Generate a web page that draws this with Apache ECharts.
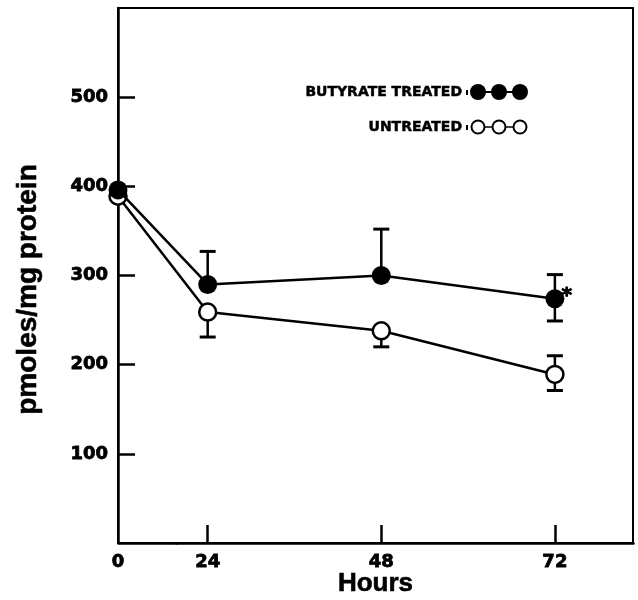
<!DOCTYPE html>
<html>
<head>
<meta charset="utf-8">
<script src="https://cdn.jsdelivr.net/npm/echarts@6/dist/echarts.min.js"></script>
<style>html,body{margin:0;padding:0;background:#fff}#c{width:638px;height:600px}</style>
</head>
<body>
<div id="c"></div>
<script>
// ---- data ----
const hours = [0, 24, 48, 72];
const butyrate = [396, 290, 300, 274];
const butyrateHi = [null, 327, 352, 301];
const butyrateLo = [null, null, null, 249];
const untreated = [389, 259, 238, 189];
const untreatedHi = [null, null, null, 210];
const untreatedLo = [null, 231, 220, 171];
const xTickValues = [0, 24, 48, 72];
const yTickValues = [100, 200, 300, 400, 500];
const legendLabels = ['BUTYRATE TREATED', 'UNTREATED'];

const chart = echarts.init(document.getElementById('c'), null, {renderer: 'canvas'});

function errorSeries(name, vals, hi, lo) {
  return {
    type: 'custom',
    name: name + ' err',
    z: 1,
    silent: true,
    clip: false,
    data: hours.map((h, i) => [h, vals[i]]),
    renderItem: function (params, api) {
      const i = params.dataIndex;
      const children = [];
      const c = api.coord([hours[i], vals[i]]);
      const cap = 8;
      [hi[i], lo[i]].forEach(function (v) {
        if (v === null || v === undefined) return;
        const p = api.coord([hours[i], v]);
        children.push({type: 'line', shape: {x1: c[0], y1: c[1], x2: p[0], y2: p[1]}, style: {stroke: '#000', lineWidth: 2.5}});
        children.push({type: 'line', shape: {x1: p[0] - cap, y1: p[1], x2: p[0] + cap, y2: p[1]}, style: {stroke: '#000', lineWidth: 3}});
      });
      return {type: 'group', children: children};
    }
  };
}

const tickFont = {fontFamily: 'DejaVu Sans', fontWeight: 'bold', fontSize: 18, color: '#000', textBorderColor: '#000', textBorderWidth: 0.8};

const option = {
  animation: false,
  backgroundColor: '#fff',
  grid: {left: 118, right: 5, top: 8, bottom: 57, outerBoundsMode: 'none', containLabel: false, show: true, borderColor: '#000', borderWidth: 2, backgroundColor: 'transparent'},
  xAxis: {
    type: 'value',
    min: 0,
    max: 82.8,
    breaks: [{start: 8, end: 19.6, gap: 0}],
    breakArea: {show: false, itemStyle: {color: 'transparent', borderWidth: 0, opacity: 0}, zigzagAmplitude: 0},
    axisLine: {show: true, onZero: false, lineStyle: {color: '#000', width: 2.5}},
    axisTick: {show: true, inside: true, length: 18, lineStyle: {color: '#000', width: 2.5}, customValues: [24, 48, 72]},
    axisLabel: Object.assign({show: true, margin: 10, customValues: xTickValues, formatter: function (v) { return String(v); }}, tickFont),
    splitLine: {show: false},
    name: 'Hours',
    nameLocation: 'middle',
    nameGap: 28,
    nameMoveOverlap: false,
    nameTextStyle: {fontFamily: 'Liberation Sans', fontWeight: 'bold', fontSize: 26, color: '#000', textBorderColor: '#000', textBorderWidth: 0.6}
  },
  yAxis: {
    type: 'value',
    min: 0,
    max: 600,
    axisLine: {show: true, onZero: false, lineStyle: {color: '#000', width: 2.5}},
    axisTick: {show: true, inside: true, length: 17, lineStyle: {color: '#000', width: 2.5}, customValues: yTickValues},
    axisLabel: Object.assign({show: true, margin: 10, customValues: yTickValues}, tickFont),
    splitLine: {show: false},
    name: 'pmoles/mg protein',
    nameLocation: 'middle',
    nameGap: 76,
    nameRotate: 90,
    nameMoveOverlap: false,
    nameTextStyle: {fontFamily: 'Liberation Sans', fontWeight: 'bold', fontSize: 28, color: '#000', textBorderColor: '#000', textBorderWidth: 0.6, padding: [0, 28, 0, 0]}
  },
  series: [
    errorSeries('untreated', untreated, untreatedHi, untreatedLo),
    errorSeries('butyrate', butyrate, butyrateHi, butyrateLo),
    {
      type: 'line',
      name: legendLabels[1],
      z: 3,
      clip: false,
      data: hours.map((h, i) => [h, untreated[i]]),
      symbol: 'circle',
      symbolSize: 17,
      showAllSymbol: true,
      lineStyle: {color: '#000', width: 2.5},
      itemStyle: {color: '#fff', borderColor: '#000', borderWidth: 2.5}
    },
    {
      type: 'line',
      name: legendLabels[0],
      z: 4,
      clip: false,
      data: hours.map((h, i) => {
        const item = {value: [h, butyrate[i]]};
        if (i === hours.length - 1) {
          item.label = {show: true, formatter: '*', position: 'right', distance: 0, offset: [-3, -3],
            fontFamily: 'DejaVu Sans', fontWeight: 'bold', fontSize: 20, color: '#000', textBorderColor: '#000', textBorderWidth: 1};
        }
        return item;
      }),
      symbol: 'circle',
      symbolSize: 19,
      showAllSymbol: true,
      lineStyle: {color: '#000', width: 2.5},
      itemStyle: {color: '#000', borderColor: '#000', borderWidth: 0}
    }
  ],
  graphic: [
    {type: 'text', x: 462, y: 92, style: {text: legendLabels[0], textAlign: 'right', textVerticalAlign: 'middle', font: 'bold 14px "DejaVu Sans"', fill: '#000', stroke: '#000', lineWidth: 0.5}},
    {type: 'rect', x: 466, y: 90, shape: {width: 2, height: 5}, style: {fill: '#000'}},
    {type: 'line', shape: {x1: 478, y1: 92, x2: 520, y2: 92}, style: {stroke: '#000', lineWidth: 2}},
    {type: 'circle', shape: {cx: 478, cy: 92, r: 8}, style: {fill: '#000'}},
    {type: 'circle', shape: {cx: 499, cy: 92, r: 8}, style: {fill: '#000'}},
    {type: 'circle', shape: {cx: 520, cy: 92, r: 8}, style: {fill: '#000'}},
    {type: 'text', x: 462, y: 127, style: {text: legendLabels[1], textAlign: 'right', textVerticalAlign: 'middle', font: 'bold 14px "DejaVu Sans"', fill: '#000', stroke: '#000', lineWidth: 0.5}},
    {type: 'rect', x: 466, y: 125, shape: {width: 2, height: 5}, style: {fill: '#000'}},
    {type: 'line', shape: {x1: 478, y1: 127, x2: 520, y2: 127}, style: {stroke: '#000', lineWidth: 1.5}},
    {type: 'circle', shape: {cx: 478, cy: 127, r: 6.5}, style: {fill: '#fff', stroke: '#000', lineWidth: 2}},
    {type: 'circle', shape: {cx: 499, cy: 127, r: 6.5}, style: {fill: '#fff', stroke: '#000', lineWidth: 2}},
    {type: 'circle', shape: {cx: 520, cy: 127, r: 6.5}, style: {fill: '#fff', stroke: '#000', lineWidth: 2}}
  ]
};
chart.setOption(option);
</script>
</body>
</html>
